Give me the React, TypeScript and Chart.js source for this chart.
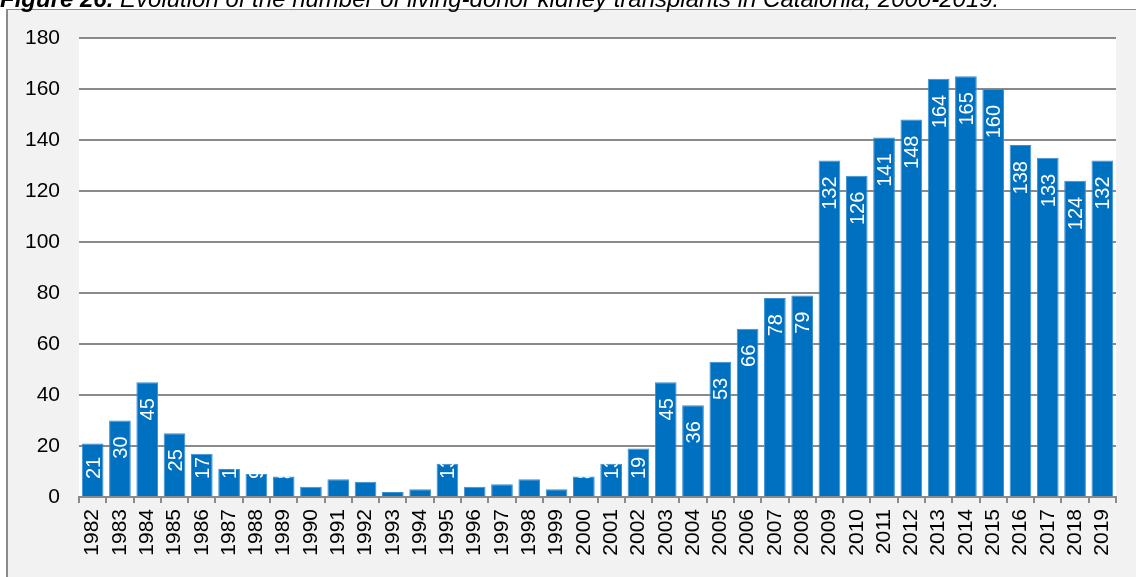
import React, { useEffect, useRef } from 'react';
import { Chart, registerables } from 'chart.js';

Chart.register(...registerables);

const years = [
  '1982', '1983', '1984', '1985', '1986', '1987', '1988', '1989', '1990', '1991',
  '1992', '1993', '1994', '1995', '1996', '1997', '1998', '1999', '2000', '2001',
  '2002', '2003', '2004', '2005', '2006', '2007', '2008', '2009', '2010', '2011',
  '2012', '2013', '2014', '2015', '2016', '2017', '2018', '2019',
];

const transplants = [
  21, 30, 45, 25, 17, 11, 9, 8, 4, 7,
  6, 2, 3, 13, 4, 5, 7, 3, 8, 13,
  19, 45, 36, 53, 66, 78, 79, 132, 126, 141,
  148, 164, 165, 160, 138, 133, 124, 132,
];

const titleBold = 'Figure 26.';
const titleRest = ' Evolution of the number of living-donor kidney transplants in Catalonia, 2000-2019.';

const yMax = 180;
const yStep = 20;

const FONT = '"Liberation Sans", Arial, sans-serif';
const W = 1136;
const H = 577;

const framePlugin = {
  id: 'frame',
  beforeDraw(chart: any) {
    const ctx = chart.ctx;
    const a = chart.chartArea;
    ctx.save();
    ctx.fillStyle = '#ffffff';
    ctx.fillRect(0, 0, W, H);
    // grey box
    ctx.fillStyle = '#f2f2f2';
    ctx.fillRect(7, 10, W - 7, H - 10);
    ctx.strokeStyle = '#8a8a8a';
    ctx.lineWidth = 2;
    ctx.beginPath();
    ctx.moveTo(7, 9);
    ctx.lineTo(7, H);
    ctx.stroke();
    ctx.lineWidth = 1;
    ctx.beginPath();
    ctx.moveTo(6, 9.5);
    ctx.lineTo(W, 9.5);
    ctx.stroke();
    // plot area
    ctx.fillStyle = '#ffffff';
    ctx.fillRect(a.left, a.top, a.right - a.left, a.bottom - a.top);
    // title
    ctx.fillStyle = '#000000';
    ctx.textBaseline = 'alphabetic';
    ctx.textAlign = 'left';
    ctx.font = `italic bold 24px ${FONT}`;
    ctx.fillText(titleBold, 0, 7);
    const wb = ctx.measureText(titleBold).width;
    ctx.font = `italic 24px ${FONT}`;
    ctx.fillText(titleRest, wb, 7);
    ctx.restore();
  },
};

const labelPlugin = {
  id: 'barLabels',
  afterDatasetsDraw(chart: any) {
    const ctx = chart.ctx;
    const meta = chart.getDatasetMeta(0);
    const data = chart.data.datasets[0].data as number[];
    ctx.save();
    ctx.font = `20px ${FONT}`;
    ctx.fillStyle = '#ffffff';
    ctx.textAlign = 'right';
    ctx.textBaseline = 'alphabetic';
    meta.data.forEach((el: any, i: number) => {
      const text = String(data[i]);
      const w = ctx.measureText(text).width;
      const top = Math.min(el.y + 16, el.base - 17 - w);
      ctx.save();
      ctx.beginPath();
      ctx.rect(el.x - el.width / 2, el.y, el.width, el.base - el.y);
      ctx.clip();
      ctx.translate(el.x, top);
      ctx.rotate(-Math.PI / 2);
      ctx.fillText(text, 0, 7);
      ctx.restore();
    });
    ctx.restore();
  },
};

export default function App() {
  const ref = useRef<HTMLCanvasElement | null>(null);

  useEffect(() => {
    if (!ref.current) return;
    const chart = new Chart(ref.current, {
      type: 'bar',
      data: {
        labels: years,
        datasets: [
          {
            data: transplants,
            backgroundColor: '#0070c0',
            borderColor: '#3b8fd3',
            borderWidth: 1,
            barPercentage: 0.795,
            categoryPercentage: 1,
          },
        ],
      },
      options: {
        responsive: false,
        animation: false,
        devicePixelRatio: 1,
        layout: { padding: { top: 38, right: 20, left: 0, bottom: 0 } },
        plugins: {
          legend: { display: false },
          tooltip: { enabled: false },
          title: { display: false },
        },
        scales: {
          x: {
            grid: {
              drawOnChartArea: false,
              drawTicks: true,
              tickLength: 6,
              tickColor: '#8a8a8a',
              lineWidth: 2,
              offset: true,
            },
            border: { display: true, color: '#8a8a8a', width: 2 },
            ticks: {
              autoSkip: false,
              minRotation: 90,
              maxRotation: 90,
              padding: 6,
              color: '#000000',
              font: { family: FONT, size: 21 },
            },
            afterFit(scale: any) {
              scale.height = 80;
            },
          },
          y: {
            min: 0,
            max: yMax,
            grid: {
              color: '#8a8a8a',
              lineWidth: 2,
              drawTicks: false,
            },
            border: { display: false },
            ticks: {
              stepSize: yStep,
              padding: 19,
              color: '#000000',
              font: { family: FONT, size: 21 },
            },
            afterFit(scale: any) {
              scale.width = 79;
            },
          },
        },
      },
      plugins: [framePlugin, labelPlugin],
    });
    return () => chart.destroy();
  }, []);

  return (
    <div style={{ position: 'fixed', left: 0, top: 0, width: W, height: H, overflow: 'hidden', background: '#fff' }}>
      <canvas ref={ref} width={W} height={H} style={{ display: 'block', width: W, height: H }} />
    </div>
  );
}
